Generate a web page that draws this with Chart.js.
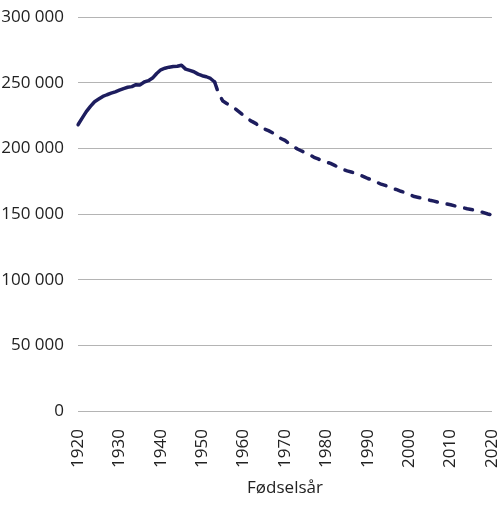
<!DOCTYPE html>
<html>
<head>
<meta charset="utf-8">
<script src="https://cdn.jsdelivr.net/npm/chart.js@4"></script>
<style>
    html, body { margin: 0; padding: 0; background: #fff; }
    #wrap { width: 500px; height: 507px; }
</style>
</head>
<body>
<div id="wrap"><canvas id="chart"></canvas></div>
<script>
// fødselsår 1920-2020
const years = [];
for (let y = 1920; y <= 2020; y++) years.push(String(y));

// faktiske tall 1920-1953
const faktisk = [
    218000, 223000, 228000, 232000, 235500, 237500, 239500, 240800, 242000, 243000,
    244300, 245500, 246500, 247000, 248500, 248300, 250500, 251500, 253500, 257000,
    259800, 261000, 261800, 262300, 262500, 263300, 260300, 259300, 258300, 256500,
    255300, 254500, 253200, 250500
];

// framskrevet 1953-2020
const framskrevet = [
    250500, 241500, 236000, 234000, 232000, 230000, 227500,
    225000, 222500, 220500, 218800, 216000, 214800, 213500, 211800, 210000, 207500,
    206000, 203500, 201500, 199500, 198000, 196600, 195000, 193200, 192000, 190500,
    189600, 188500, 187000, 185500, 184000, 182800, 182000, 181000, 179800, 178500,
    177000, 176000, 174500, 173000, 172000, 170800, 169500, 168500, 167300, 166300,
    165000, 163500, 162800, 162000, 161300, 160500, 159800, 159000, 158300, 157700,
    157000, 156200, 155500, 154800, 154000, 153500, 152700, 152000, 151000, 150000,
    149200
];

const yTicks = [0, 50000, 100000, 150000, 200000, 250000, 300000];

const solidData = years.map((y, i) => i < faktisk.length ? faktisk[i] : null);
const startProj = years.indexOf("1953");
const dashData = years.map((y, i) => i >= startProj ? framskrevet[i - startProj] : null);

const lineColor = "#1d1d5e";
const font = { family: "Open Sans", size: 17 };

new Chart(document.getElementById("chart"), {
    type: 'line',
    data: {
        labels: years,
        datasets: [
            {
                label: "Faktisk",
                data: solidData,
                borderColor: lineColor,
                borderWidth: 3.5,
                pointRadius: 0,
                tension: 0,
                borderCapStyle: 'round',
                borderJoinStyle: 'round'
            },
            {
                label: "Framskrevet",
                data: dashData,
                borderColor: lineColor,
                borderWidth: 3.5,
                borderDash: [8, 10],
                borderCapStyle: 'round',
                borderJoinStyle: 'round',
                pointRadius: 0,
                tension: 0
            }
        ]
    },
    options: {
        responsive: true,
        maintainAspectRatio: false,
        animation: false,
        layout: { padding: { top: 17, right: 8, left: 0, bottom: 0 } },
        plugins: {
            legend: { display: false },
            tooltip: { enabled: false }
        },
        scales: {
            x: {
                grid: { display: false, drawTicks: false },
                border: { display: false },
                afterFit: axis => {
                    axis.paddingLeft = 0;
                    axis.paddingRight = 0;
                    axis.height = 96;
                },
                ticks: {
                    color: "#222",
                    font: font,
                    autoSkip: false,
                    maxRotation: 90,
                    minRotation: 90,
                    padding: 18,
                    callback: function (v) {
                        const lab = this.getLabelForValue(v);
                        return Number(lab) % 10 === 0 ? lab : null;
                    }
                },
                title: {
                    display: true,
                    text: "Fødselsår",
                    color: "#222",
                    font: font,
                    padding: { top: 0, bottom: 9 }
                }
            },
            y: {
                min: 0,
                max: 300000,
                afterBuildTicks: axis => { axis.ticks = yTicks.map(v => ({ value: v })); },
                afterFit: axis => {
                    axis.width = 78;
                    axis.paddingTop = 0;
                    axis.paddingBottom = 0;
                },
                grid: { color: "#b4b4b4", lineWidth: 1, drawTicks: false },
                border: { display: false },
                ticks: {
                    color: "#222",
                    font: font,
                    padding: 14,
                    callback: v => String(v).replace(/\B(?=(\d{3})+(?!\d))/g, " ")
                }
            }
        }
    }
});
</script>
</body>
</html>
